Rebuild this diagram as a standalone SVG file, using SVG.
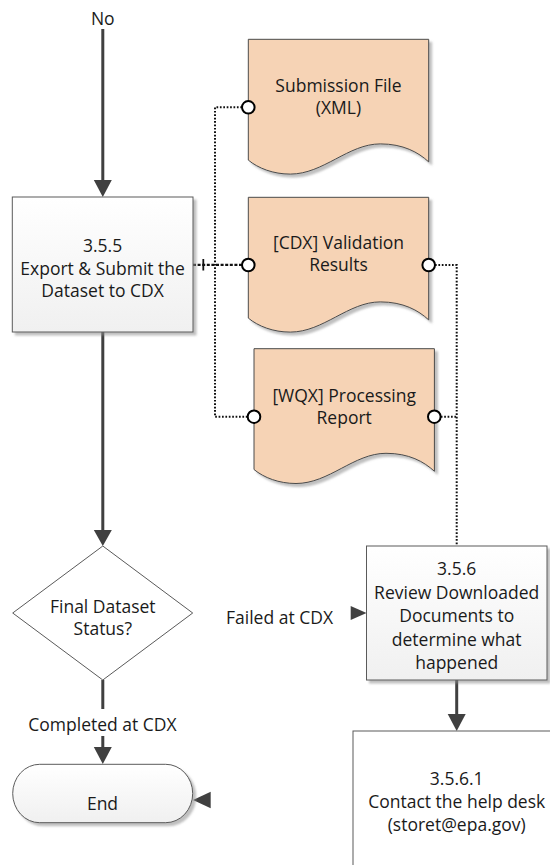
<svg xmlns="http://www.w3.org/2000/svg" width="550" height="865" viewBox="0 0 550 865">
<defs>
<style>
text{font-family:"Open Sans","Liberation Sans",sans-serif;font-size:17.5px;fill:#1a1a1a;text-anchor:middle}
.box{stroke:#5a5a5a;stroke-width:1;fill:url(#g)}
.plain{stroke:#5a5a5a;stroke-width:1;fill:#ffffff}
.doc{fill:#F6D3B5;stroke:#4a4a4a;stroke-width:1}
.flow{stroke:#404040;stroke-width:3;fill:none}
.head{fill:#404040}
.dot{stroke:#111;stroke-width:2;stroke-dasharray:1.7 1.7;fill:none}
.dash{stroke:#111;stroke-width:2.2;stroke-dasharray:3 1.6;fill:none}
.port{fill:#fff;stroke:#000;stroke-width:2}
</style>
<linearGradient id="g" x1="0" y1="0" x2="0" y2="1">
<stop offset="0" stop-color="#ffffff"/>
<stop offset="1" stop-color="#f0f0f0"/>
</linearGradient>
<filter id="sh" x="-10%" y="-10%" width="125%" height="130%">
<feDropShadow dx="3" dy="3" stdDeviation="0.8" flood-color="#8a8a8a" flood-opacity="0.55"/>
</filter>
<path id="docshape" d="M0,0 H180.4 V122.6 C170,113 155,104.6 132,104.6 C100,104.6 75,134.8 42,134.8 C25,134.8 10,129 0,120.8 Z"/>
</defs>

<g id="connectors">
<line class="flow" x1="102.8" y1="29" x2="102.8" y2="182"/>
<polygon class="head" points="93.8,180 111.8,180 102.8,197"/>
<line class="flow" x1="102.8" y1="332" x2="102.8" y2="532"/>
<polygon class="head" points="93.8,530 111.8,530 102.8,546"/>
<line class="flow" x1="102.8" y1="680" x2="102.8" y2="709"/>
<line class="flow" x1="102.8" y1="736" x2="102.8" y2="749"/>
<polygon class="head" points="93.8,747 111.8,747 102.8,764"/>
<line class="flow" x1="456.7" y1="680" x2="456.7" y2="716"/>
<polygon class="head" points="447.7,714 465.7,714 456.7,731"/>
<polygon class="head" points="350.7,606 350.7,620 366.5,613"/>
<polygon class="head" points="193,800 210.7,791.7 210.7,808.3"/>
<path class="dot" d="M242,107.3 H215 V416.7 H247.5"/>
<path class="dot" d="M435,265 H456.7 V546"/>
<path class="dot" d="M440.8,416.7 H456.7"/>
<line class="dash" x1="193" y1="264.8" x2="242" y2="264.8"/>
<line stroke="#111" stroke-width="1.8" x1="203.3" y1="259" x2="203.3" y2="270.5"/>
</g>

<g id="doc-submission">
<use href="#docshape" class="doc" filter="url(#sh)" transform="translate(248.3,39.3)"/>
<text x="338.5" y="92">Submission File</text>
<text x="338.5" y="114">(XML)</text>
<circle class="port" cx="248.3" cy="107.3" r="6.3"/>
</g>

<g id="doc-validation">
<use href="#docshape" class="doc" filter="url(#sh)" transform="translate(248.3,197.3)"/>
<text x="338.5" y="248.5">[CDX] Validation</text>
<text x="338.5" y="271">Results</text>
<circle class="port" cx="248.3" cy="265" r="6.3"/>
<circle class="port" cx="428.7" cy="265" r="6.3"/>
</g>

<g id="doc-processing">
<use href="#docshape" class="doc" filter="url(#sh)" transform="translate(254,348.7)"/>
<text x="344.2" y="401.5">[WQX] Processing</text>
<text x="344.2" y="424">Report</text>
<circle class="port" cx="254" cy="416.7" r="6.3"/>
<circle class="port" cx="434.3" cy="416.7" r="6.3"/>
</g>

<g id="label-no">
<text x="102.8" y="25">No</text>
</g>

<g id="step-355">
<rect class="box" filter="url(#sh)" x="12.3" y="197" width="180.7" height="135"/>
<text x="102.6" y="251.5">3.5.5</text>
<text x="102.6" y="274.5">Export &amp; Submit the</text>
<text x="102.6" y="297">Dataset to CDX</text>
</g>

<g id="decision">
<polygon points="12.7,613 102.8,546 192.7,613 102.8,680" fill="#ffffff" stroke="#5a5a5a" stroke-width="1"/>
<text x="102.8" y="612.5">Final Dataset</text>
<text x="102.8" y="635">Status?</text>
</g>

<g id="label-completed">
<text x="102.5" y="731">Completed at CDX</text>
</g>

<g id="label-failed">
<text x="279.5" y="624">Failed at CDX</text>
</g>

<g id="end">
<rect class="box" filter="url(#sh)" x="12.7" y="764.3" width="180" height="58.4" rx="27" ry="29.2"/>
<text x="102.5" y="810">End</text>
</g>

<g id="step-356">
<rect class="box" filter="url(#sh)" x="366.5" y="546" width="180.5" height="134"/>
<text x="456.7" y="575">3.5.6</text>
<text x="456.7" y="598.5">Review Downloaded</text>
<text x="456.7" y="622">Documents to</text>
<text x="456.7" y="645.5">determine what</text>
<text x="456.7" y="669">happened</text>
</g>

<g id="step-3561">
<rect class="plain" x="353" y="731" width="210" height="160"/>
<text x="456.7" y="785">3.5.6.1</text>
<text x="456.7" y="808">Contact the help desk</text>
<text x="456.7" y="831">(storet@epa.gov)</text>
</g>
</svg>
